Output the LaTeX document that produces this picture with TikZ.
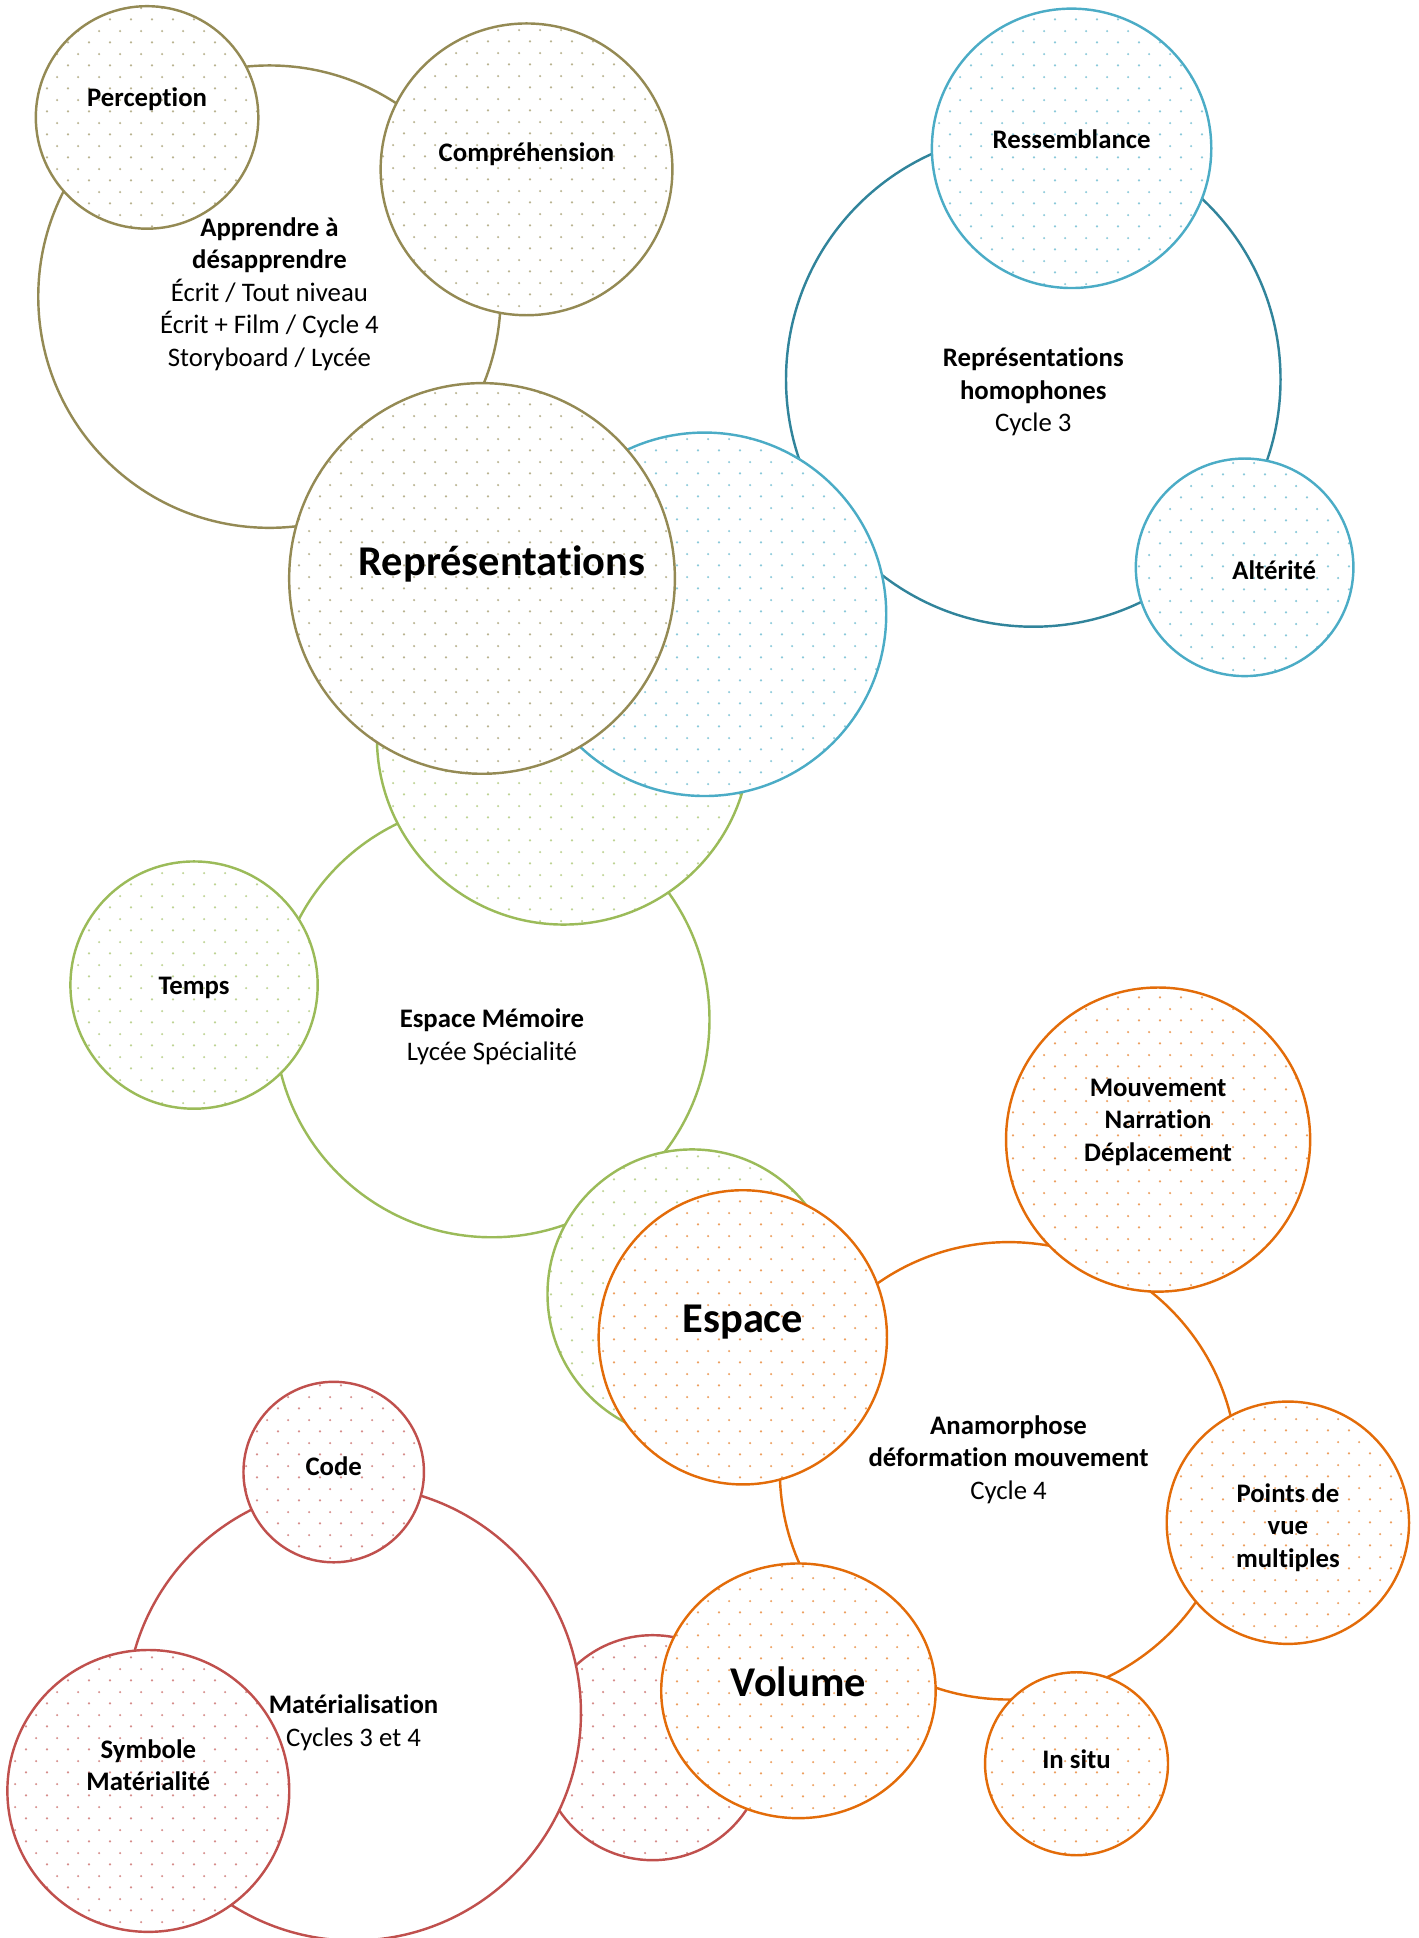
\documentclass[tikz,border=0pt]{standalone}
\usepackage{fontspec}
\setmainfont{Carlito}[Ligatures={NoCommon}]
\usetikzlibrary{patterns,shapes.geometric}

\definecolor{olivebr}{HTML}{948A54}
\definecolor{aqua}{HTML}{4BACC6}
\definecolor{tealdk}{HTML}{31849B}
\definecolor{leaf}{HTML}{9BBB59}
\definecolor{pumpkin}{HTML}{E36C09}
\definecolor{brick}{HTML}{C0504D}

% petits points en quinconce
\pgfdeclarepatternformonly{stagdots}{\pgfpoint{0cm}{0cm}}{\pgfpoint{0.425cm}{0.46cm}}{\pgfpoint{0.425cm}{0.46cm}}{
  \pgfpathcircle{\pgfpoint{0.106cm}{0.115cm}}{0.025cm}
  \pgfpathcircle{\pgfpoint{0.319cm}{0.345cm}}{0.025cm}
  \pgfusepath{fill}
}

\tikzset{
  bub/.style={circle, draw=#1, line width=1.4pt, inner sep=0pt},
  ring/.style={bub=#1},
  spot/.style={bub=#1, preaction={fill=white}, pattern=stagdots, pattern color=#1!65},
  lab/.style={font=\fontsize{15.4}{18.7}\selectfont, align=center, inner sep=0pt},
  big/.style={font=\fontsize{24.4}{29}\selectfont\bfseries, inner sep=0pt},
}

\begin{document}
\begin{tikzpicture}[x=0.025cm, y=-0.025cm]
\useasboundingbox (0,0) rectangle (1148,1568);

% grands cercles
\node[ring=olivebr, minimum size=9.35cm] (appr) at (218,240) {};
\node[ring=tealdk, minimum size=10cm] (homo) at (836,307) {};
\node[ring=leaf, minimum size=8.8cm] (memo) at (398,825) {};
\node[ring=pumpkin, minimum size=9.25cm] (anam) at (816,1190) {};

% cercles du centre
\node[spot=leaf, minimum size=7.55cm] (vertA) at (456,597) {};
\node[spot=aqua, minimum size=7.35cm] (bleuA) at (570,497) {};
\node[spot=olivebr, minimum width=7.8cm, minimum height=7.9cm, ellipse] (repr) at (390,468) {};

\node[spot=olivebr, minimum size=4.5cm] (perc) at (119,95) {};
\node[spot=olivebr, minimum size=5.9cm] (comp) at (426,137) {};

\node[spot=aqua, minimum size=5.65cm] (ress) at (867,120) {};
\node[spot=aqua, minimum size=4.4cm] (alte) at (1007,459) {};

\node[spot=leaf, minimum size=5cm] (temps) at (157,797) {};
\node[spot=leaf, minimum size=5.85cm] (vertB) at (560,1047) {};
\node[spot=pumpkin, minimum width=5.83cm, minimum height=5.95cm, ellipse] (esp) at (601,1082) {};

\node[spot=pumpkin, minimum size=6.15cm] (mouv) at (937,922) {};
\node[spot=pumpkin, minimum size=4.9cm] (pdv) at (1042,1232) {};
\node[spot=pumpkin, minimum size=3.7cm] (insitu) at (871,1427) {};

\node[spot=brick, minimum size=4.55cm] (rougeA) at (528,1414) {};
\node[ring=brick, fill=white, minimum size=9.2cm] (mat) at (286,1386) {};
\node[spot=pumpkin, minimum width=5.55cm, minimum height=5.15cm, ellipse] (vol) at (646,1368) {};
\node[spot=brick, minimum size=3.65cm] (code) at (270,1191) {};
\node[spot=brick, minimum size=5.7cm] (symb) at (120,1449) {};

% textes
\node[lab] (t-appr) at (218,238) {\textbf{Apprendre à}\\\textbf{désapprendre}\\Écrit / Tout niveau\\Écrit + Film / Cycle 4\\Storyboard / Lycée};
\node[lab] (t-homo) at (836,317) {\textbf{Représentations}\\\textbf{homophones}\\Cycle 3};
\node[lab] (t-memo) at (398,839) {\textbf{Espace Mémoire}\\Lycée Spécialité};
\node[lab] (t-anam) at (816,1181) {\textbf{Anamorphose}\\\textbf{déformation mouvement}\\Cycle 4};
\node[lab] (t-mat) at (286,1394) {\textbf{Matérialisation}\\Cycles 3 et 4};

\node[lab] (t-perc) at (119,80) {\textbf{Perception}};
\node[lab] (t-comp) at (426,125) {\textbf{Compréhension}};
\node[big] (t-repr) at (406,456) {Représentations};
\node[lab] (t-ress) at (867,113) {\textbf{Ressemblance}};
\node[lab] (t-alte) at (1031,461) {\textbf{Altérité}};
\node[lab] (t-temps) at (157,799) {\textbf{Temps}};
\node[lab] (t-mouv) at (937,908) {\textbf{Mouvement}\\\textbf{Narration}\\\textbf{Déplacement}};
\node[big] (t-esp) at (601,1070) {Espace};
\node[lab] (t-pdv) at (1042,1236) {\textbf{Points de}\\\textbf{vue}\\\textbf{multiples}};
\node[lab] (t-insitu) at (871,1423) {\textbf{In situ}};
\node[big] (t-vol) at (646,1361) {Volume};
\node[lab] (t-code) at (270,1186) {\textbf{Code}};
\node[lab] (t-symb) at (120,1428) {\textbf{Symbole}\\\textbf{Matérialité}};

\end{tikzpicture}
\end{document}
